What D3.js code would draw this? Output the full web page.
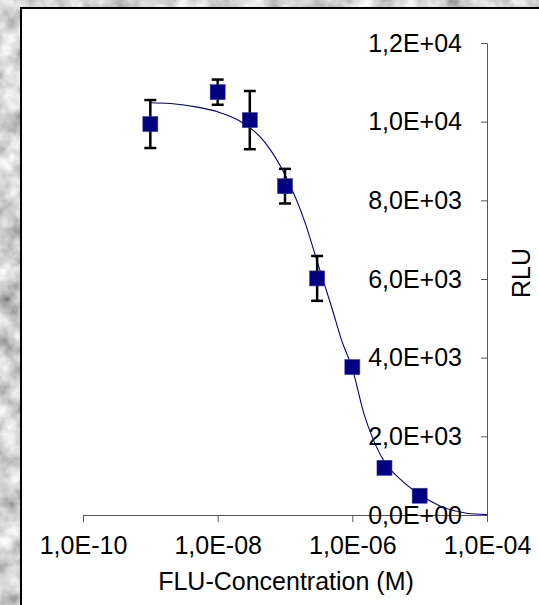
<!DOCTYPE html>
<html>
<head>
<meta charset="utf-8">
<script src="https://cdn.jsdelivr.net/npm/d3@7"></script>
<style>
  body { margin: 0; overflow: hidden; }
  svg { display: block; font-family: "Liberation Sans", Arial, sans-serif; }
</style>
</head>
<body>
<svg></svg>
<script>
// measured points (concentration in M, RLU, error)
var conc = [1e-9, 1e-8, 3e-8, 1e-7, 3e-7, 1e-6, 3e-6, 1e-5];
var rlu = [9940, 10750, 10040, 8360, 6015, 3760, 1200, 490];
var err = [610, 320, 740, 440, 570, 100, 60, 50];

// fitted curve
var curveConc = [1e-9, 2e-9, 5e-9, 1e-8, 2e-8, 5e-8, 1e-7, 2e-7, 3e-7, 5e-7, 7e-7, 1e-6, 1.5e-6, 2e-6, 3e-6, 5e-6, 1e-5, 2e-5, 5e-5, 1e-4];
var curveRlu = [10480, 10460, 10370, 10250, 10040, 9480, 8650, 7420, 6450, 5250, 4420, 3720, 2550, 1960, 1350, 930, 520, 230, 45, 10];

var xTicks = [1e-10, 1e-8, 1e-6, 1e-4];
var xTickLabels = ["1,0E-10", "1,0E-08", "1,0E-06", "1,0E-04"];
var yTicks = [0, 2000, 4000, 6000, 8000, 10000, 12000];
var yTickLabels = ["0,0E+00", "2,0E+03", "4,0E+03", "6,0E+03", "8,0E+03", "1,0E+04", "1,2E+04"];

var width = 539, height = 605;
var svg = d3.select("svg").attr("width", width).attr("height", height);

// granite-like backdrop
var defs = svg.append("defs");
var f = defs.append("filter").attr("id", "granite")
    .attr("x", 0).attr("y", 0).attr("width", "100%").attr("height", "100%");
f.append("feTurbulence").attr("type", "fractalNoise")
    .attr("baseFrequency", 0.045).attr("numOctaves", 4).attr("seed", 7);
f.append("feColorMatrix").attr("type", "matrix")
    .attr("values", "1.1 0 0 0 0.1  1.1 0 0 0 0.1  1.1 0 0 0 0.1  0 0 0 0 1");

svg.append("rect").attr("width", width).attr("height", height).attr("fill", "#aaa");
svg.append("rect").attr("width", width).attr("height", height).attr("filter", "url(#granite)");

// white chart panel
svg.append("rect")
    .attr("x", 21).attr("y", 8)
    .attr("width", width + 10).attr("height", height + 10)
    .attr("fill", "#fff").attr("stroke", "#000").attr("stroke-width", 2);

var x = d3.scaleLog().domain([1e-10, 1e-4]).range([83, 487]);
var y = d3.scaleLinear().domain([0, 12000]).range([515, 43]);

var g = svg.append("g");

// axes
var xAxis = d3.axisBottom(x)
    .tickValues(xTicks)
    .tickFormat(function(d, i) { return xTickLabels[i]; })
    .tickSize(7).tickSizeOuter(0).tickPadding(14);

var yAxis = d3.axisLeft(y)
    .tickValues(yTicks)
    .tickFormat(function(d, i) { return yTickLabels[i]; })
    .tickSize(6).tickSizeOuter(0).tickPadding(19);

var gx = g.append("g").attr("transform", "translate(0," + y(0) + ")").call(xAxis);
var gy = g.append("g").attr("transform", "translate(" + x(1e-4) + ",0)").call(yAxis);

[gx, gy].forEach(function(a) {
    a.selectAll("path, line").attr("stroke", "#555").attr("stroke-width", 1);
    a.selectAll("text").attr("fill", "#000").style("font-size", "25px")
        .style("font-family", "'Liberation Sans', Arial, sans-serif");
});

// axis titles
g.append("text")
    .attr("x", 286).attr("y", 590)
    .attr("text-anchor", "middle")
    .style("font-size", "25px")
    .text("FLU-Concentration (M)");

g.append("text")
    .attr("transform", "translate(530,273) rotate(-90)")
    .attr("text-anchor", "middle")
    .style("font-size", "25px")
    .text("RLU");

// fitted curve
var line = d3.line()
    .x(function(d, i) { return x(curveConc[i]); })
    .y(function(d) { return y(d); })
    .curve(d3.curveMonotoneX);

g.append("path")
    .datum(curveRlu)
    .attr("d", line)
    .attr("fill", "none")
    .attr("stroke", "#000080")
    .attr("stroke-width", 1.1);

// error bars
var pts = conc.map(function(c, i) { return { c: c, v: rlu[i], e: err[i] }; });

var eb = g.append("g").attr("stroke", "#000").attr("stroke-width", 2.5);
pts.forEach(function(d) {
    var cx = x(d.c);
    eb.append("line").attr("x1", cx).attr("x2", cx)
        .attr("y1", y(d.v + d.e)).attr("y2", y(d.v - d.e));
    eb.append("line").attr("x1", cx - 6).attr("x2", cx + 6)
        .attr("y1", y(d.v + d.e)).attr("y2", y(d.v + d.e));
    eb.append("line").attr("x1", cx - 6).attr("x2", cx + 6)
        .attr("y1", y(d.v - d.e)).attr("y2", y(d.v - d.e));
});

// markers
var s = 15;
g.append("g").selectAll("rect")
    .data(pts)
    .join("rect")
    .attr("x", function(d) { return x(d.c) - s / 2; })
    .attr("y", function(d) { return y(d.v) - s / 2; })
    .attr("width", s).attr("height", s)
    .attr("fill", "#000080")
    .attr("stroke", "#3a3aa0").attr("stroke-width", 0.6);
</script>
</body>
</html>
